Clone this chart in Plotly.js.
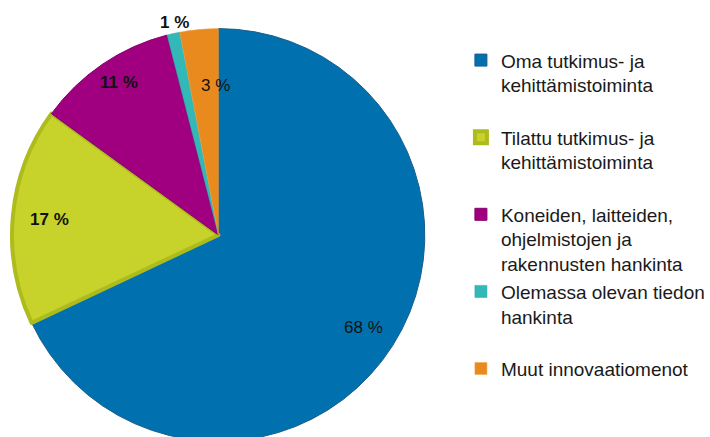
<!DOCTYPE html>
<html>
<head>
<meta charset="utf-8">
<script src="https://cdn.plot.ly/plotly-3.0.1.min.js"></script>
<style>
html,body{margin:0;padding:0;overflow:hidden;background:#fff;}
#chart{width:710px;height:442px;}
</style>
</head>
<body>
<div id="chart"></div>
<script>
// Data
const categories = [
  "Oma tutkimus- ja<br>kehittämistoiminta",
  "Tilattu tutkimus- ja<br>kehittämistoiminta",
  "Koneiden, laitteiden,<br>ohjelmistojen ja<br>rakennusten hankinta",
  "Olemassa olevan tiedon<br>hankinta",
  "Muut innovaatiomenot"
];
const shares = [68, 17, 11, 1, 3];

// Styles
const colors = ["#0071AE", "#C7D22B", "#A0007F", "#33B8B8", "#E88A1E"];
const borderColors = ["#1A5E8C", "#AEBB1C", "#88006C", "#2AA0A0", "#F0A040"];
const borderWidths = [1, 4, 1, 0.5, 0.5];
const labelRadius = [0.83, 0.82, 0.88, 1.05, 0.72];
const labelAngleShift = [0, 0, 1, 1, 4.2];
const labelBold = [false, true, true, true, false];

const W = 710, H = 442, mL = 12, mR = 0, mT = 28, mB = 0;
const plotW = W - mL - mR, plotH = H - mT - mB;
const diam = plotH;
const domX = [0, diam / plotW];

// Legend labels padded to equal line counts (evenly spaced entries)
const maxLines = Math.max(...categories.map(c => c.split("<br>").length));
const legendLabels = categories.map(c => {
  const n = c.split("<br>").length;
  return c + "<br> ".repeat(maxLines - n);
});

// Label annotations positioned from slice angles
const total = shares.reduce((a, b) => a + b, 0);
const cx = (domX[0] + domX[1]) / 2, cy = 0.5;
const rx = (diam / 2) / plotW, ry = 0.5;
let cum = 0;
const annotations = shares.map((v, i) => {
  const a0 = cum / total * 360;
  cum += v;
  const a1 = cum / total * 360;
  const mid = ((a0 + a1) / 2 + labelAngleShift[i]) * Math.PI / 180;
  const r = labelRadius[i];
  const txt = v + " %";
  return {
    xref: "paper", yref: "paper",
    x: cx + Math.sin(mid) * r * rx,
    y: cy + Math.cos(mid) * r * ry,
    text: labelBold[i] ? "<b>" + txt + "</b>" : txt,
    showarrow: false,
    font: {family: "Liberation Sans, Arial, sans-serif", size: 17, color: "#111"},
    xanchor: "center", yanchor: "middle"
  };
});

const trace = {
  type: "pie",
  labels: legendLabels,
  values: shares,
  sort: false,
  direction: "clockwise",
  rotation: 0,
  textinfo: "none",
  hoverinfo: "label+percent",
  marker: {colors: colors, line: {color: borderColors, width: borderWidths}},
  domain: {x: domX, y: [0, 1]}
};

const layout = {
  width: W, height: H,
  margin: {l: mL, r: mR, t: mT, b: mB, pad: 0},
  paper_bgcolor: "#fff",
  showlegend: true,
  legend: {
    x: 0.645, y: 0.968, xanchor: "left", yanchor: "top",
    valign: "top",
    font: {family: "Liberation Sans, Arial, sans-serif", size: 19, color: "#1a1a1a"},
    bgcolor: "rgba(0,0,0,0)", borderwidth: 0, tracegroupgap: 0
  },
  annotations: annotations
};

Plotly.newPlot("chart", [trace], layout, {displayModeBar: false, staticPlot: true});
</script>
</body>
</html>
